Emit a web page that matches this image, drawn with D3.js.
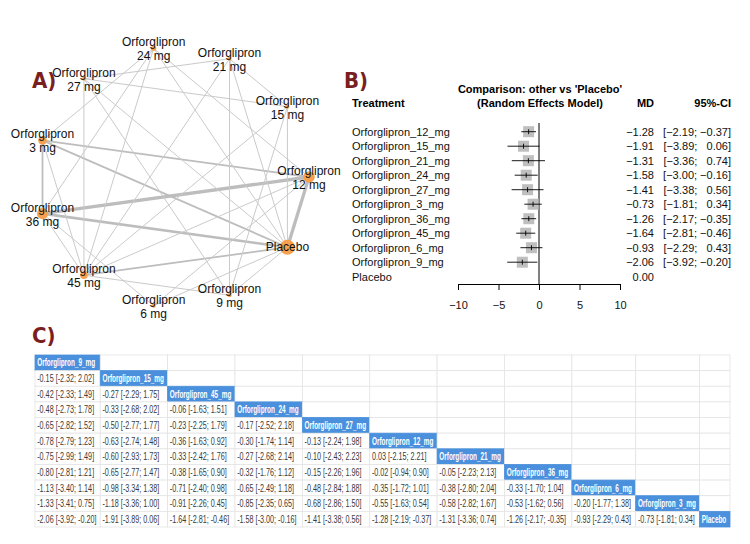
<!DOCTYPE html>
<html>
<head>
<meta charset="utf-8">
<script src="https://cdn.jsdelivr.net/npm/d3@7"></script>
<style>
  body { margin: 0; background: #fff; }
  svg { display: block; font-family: "Liberation Sans", Arial, sans-serif; }
</style>
</head>
<body>
<script>
// ---------- data ----------
// network: treatments in alphabetical order (same order as the circle layout)
const netDoses = ["12", "15", "21", "24", "27", "3", "36", "45", "6", "9", "Placebo"];
// participants per treatment (estimated from node size)
const netPatients = [420, 50, 50, 90, 50, 230, 380, 180, 50, 50, 700];
// direct comparisons: [a, b, number of studies]
const netEdges = [
  ["12", "Placebo", 4], ["12", "36", 4], ["36", "Placebo", 3],
  ["3", "12", 2], ["3", "36", 2], ["3", "Placebo", 2], ["45", "Placebo", 2],
  ["3", "24", 1], ["3", "45", 1], ["12", "24", 1], ["12", "45", 1],
  ["24", "36", 1], ["24", "45", 1], ["24", "Placebo", 1], ["36", "45", 1],
  ["6", "12", 1], ["6", "36", 1], ["6", "Placebo", 1],
  ["9", "15", 1], ["9", "21", 1], ["9", "27", 1], ["9", "45", 1], ["9", "Placebo", 1],
  ["15", "21", 1], ["15", "27", 1], ["15", "45", 1], ["15", "Placebo", 1],
  ["21", "27", 1], ["21", "45", 1], ["21", "Placebo", 1],
  ["27", "45", 1], ["27", "Placebo", 1]
];

// forest plot: other vs placebo
const forestNames = ["Orforglipron_12_mg", "Orforglipron_15_mg", "Orforglipron_21_mg",
  "Orforglipron_24_mg", "Orforglipron_27_mg", "Orforglipron_3_mg", "Orforglipron_36_mg",
  "Orforglipron_45_mg", "Orforglipron_6_mg", "Orforglipron_9_mg", "Placebo"];
const forestMD = [-1.28, -1.91, -1.31, -1.58, -1.41, -0.73, -1.26, -1.64, -0.93, -2.06, 0];
const forestLo = [-2.19, -3.89, -3.36, -3.00, -3.38, -1.81, -2.17, -2.81, -2.29, -3.92, null];
const forestHi = [-0.37, 0.06, 0.74, -0.16, 0.56, 0.34, -0.35, -0.46, 0.43, -0.20, null];
const forestTicks = [-10, -5, 0, 5, 10];

// league table (lower triangle, row vs column)
const leagueOrder = ["Orforglipron_9_mg", "Orforglipron_15_mg", "Orforglipron_45_mg",
  "Orforglipron_24_mg", "Orforglipron_27_mg", "Orforglipron_12_mg", "Orforglipron_21_mg",
  "Orforglipron_36_mg", "Orforglipron_6_mg", "Orforglipron_3_mg", "Placebo"];
const leagueMD = [
  [],
  [-0.15],
  [-0.42, -0.27],
  [-0.48, -0.33, -0.06],
  [-0.65, -0.50, -0.23, -0.17],
  [-0.78, -0.63, -0.36, -0.30, -0.13],
  [-0.75, -0.60, -0.33, -0.27, -0.10, 0.03],
  [-0.80, -0.65, -0.38, -0.32, -0.15, -0.02, -0.05],
  [-1.13, -0.98, -0.71, -0.65, -0.48, -0.35, -0.38, -0.33],
  [-1.33, -1.18, -0.91, -0.85, -0.68, -0.55, -0.58, -0.53, -0.20],
  [-2.06, -1.91, -1.64, -1.58, -1.41, -1.28, -1.31, -1.26, -0.93, -0.73]
];
const leagueLo = [
  [],
  [-2.32],
  [-2.33, -2.29],
  [-2.73, -2.68, -1.63],
  [-2.82, -2.77, -2.25, -2.52],
  [-2.79, -2.74, -1.63, -1.74, -2.24],
  [-2.99, -2.93, -2.42, -2.68, -2.43, -2.15],
  [-2.81, -2.77, -1.65, -1.76, -2.26, -0.94, -2.23],
  [-3.40, -3.34, -2.40, -2.49, -2.84, -1.72, -2.80, -1.70],
  [-3.41, -3.36, -2.26, -2.35, -2.86, -1.63, -2.82, -1.62, -1.77],
  [-3.92, -3.89, -2.81, -3.00, -3.38, -2.19, -3.36, -2.17, -2.29, -1.81]
];
const leagueHi = [
  [],
  [2.02],
  [1.49, 1.75],
  [1.78, 2.02, 1.51],
  [1.52, 1.77, 1.79, 2.18],
  [1.23, 1.48, 0.92, 1.14, 1.98],
  [1.49, 1.73, 1.76, 2.14, 2.23, 2.21],
  [1.21, 1.47, 0.90, 1.12, 1.96, 0.90, 2.13],
  [1.14, 1.38, 0.98, 1.18, 1.88, 1.01, 2.04, 1.04],
  [0.75, 1.00, 0.45, 0.65, 1.50, 0.54, 1.67, 0.56, 1.38],
  [-0.20, 0.06, -0.46, -0.16, 0.56, -0.37, 0.74, -0.35, 0.43, 0.34]
];

// ---------- svg ----------
const W = 750, H = 544;
const svg = d3.select("body").append("svg").attr("width", W).attr("height", H);
const panelColor = "#7a1f1f";
const panelFont = "'Liberation Sans Narrow', 'DejaVu Sans Condensed', sans-serif";

function panelLabel(txt, x, y) {
  svg.append("text").attr("x", x).attr("y", y)
    .style("font-family", panelFont).style("font-weight", "bold")
    .style("font-size", "22px").attr("fill", panelColor).text(txt);
}

// ****************** A) network graph ******************
const cx = 173, cy = 177, rx = 136, ry = 130;
const angle = d3.scaleLinear().domain([0, netDoses.length]).range([0, 2 * Math.PI]);
const nodes = netDoses.map((d, i) => ({
  id: d,
  x: cx + rx * Math.cos(angle(i)),
  y: cy - ry * Math.sin(angle(i)),
  n: netPatients[i]
}));
const byId = {};
nodes.forEach(d => byId[d.id] = d);

const rScale = d3.scaleSqrt().domain([0, 700]).range([0, 7.5]);
const wScale = d3.scaleLinear().domain([1, 4]).range([1, 3.3]);

const gA = svg.append("g");
gA.selectAll("line.edge").data(netEdges).enter().append("line")
  .attr("class", "edge")
  .attr("x1", d => byId[d[0]].x).attr("y1", d => byId[d[0]].y)
  .attr("x2", d => byId[d[1]].x).attr("y2", d => byId[d[1]].y)
  .attr("stroke", d => d[2] > 1 ? "#bdbdbd" : "#cacaca")
  .attr("stroke-width", d => wScale(d[2]));

gA.selectAll("circle").data(nodes).enter().append("circle")
  .attr("cx", d => d.x).attr("cy", d => d.y)
  .attr("r", d => rScale(d.n)).attr("fill", "#f7a14f");

const lab = gA.selectAll("text.nlab").data(nodes).enter().append("text")
  .attr("class", "nlab")
  .attr("text-anchor", "middle")
  .style("font-size", "12px").attr("fill", "#111");
lab.each(function(d) {
  const t = d3.select(this);
  if (d.id === "Placebo") {
    t.append("tspan").attr("x", d.x).attr("y", d.y + 4).text("Placebo");
  } else {
    t.append("tspan").attr("x", d.x).attr("y", d.y - 2).text("Orforglipron");
    t.append("tspan").attr("x", d.x).attr("y", d.y + 12).text(d.id + " mg");
  }
});

panelLabel("A)", 32, 88);

// ****************** B) forest plot ******************
panelLabel("B)", 344, 88);

const xF = d3.scaleLinear().domain([-10, 10]).range([458, 620]);
const yF = d3.scalePoint().domain(forestNames).range([131.7, 276.7]);
const gB = svg.append("g").style("font-size", "11px");
const minus = v => d3.format(".2f")(v);   // d3 uses the true minus sign

gB.append("text").attr("x", 540).attr("y", 93).attr("text-anchor", "middle")
  .style("font-weight", "bold").text("Comparison: other vs 'Placebo'");
gB.append("text").attr("x", 540).attr("y", 107).attr("text-anchor", "middle")
  .style("font-weight", "bold").text("(Random Effects Model)");
gB.append("text").attr("x", 352).attr("y", 107).style("font-weight", "bold").text("Treatment");
gB.append("text").attr("x", 654).attr("y", 107).attr("text-anchor", "end")
  .style("font-weight", "bold").text("MD");
gB.append("text").attr("x", 731).attr("y", 107).attr("text-anchor", "end")
  .style("font-weight", "bold").text("95%-CI");

// reference line at 0
gB.append("line").attr("x1", xF(0)).attr("x2", xF(0)).attr("y1", 123).attr("y2", 284)
  .attr("stroke", "#000").attr("stroke-width", 1);

const rows = forestNames.map((name, i) => ({ name, md: forestMD[i], lo: forestLo[i], hi: forestHi[i] }));

gB.selectAll("text.tname").data(rows).enter().append("text")
  .attr("class", "tname").attr("x", 352).attr("y", d => yF(d.name) + 4)
  .attr("fill", "#111").text(d => d.name);

const est = rows.filter(d => d.lo !== null);
const sq = 11;
gB.selectAll("rect.sq").data(est).enter().append("rect")
  .attr("class", "sq")
  .attr("x", d => xF(d.md) - sq / 2).attr("y", d => yF(d.name) - sq / 2)
  .attr("width", sq).attr("height", sq).attr("fill", "#bfbfbf");
gB.selectAll("line.ci").data(est).enter().append("line")
  .attr("class", "ci")
  .attr("x1", d => xF(d.lo)).attr("x2", d => xF(d.hi))
  .attr("y1", d => yF(d.name)).attr("y2", d => yF(d.name))
  .attr("stroke", "#000").attr("stroke-width", 0.9);
gB.selectAll("line.mk").data(est).enter().append("line")
  .attr("class", "mk")
  .attr("x1", d => xF(d.md)).attr("x2", d => xF(d.md))
  .attr("y1", d => yF(d.name) - 2.5).attr("y2", d => yF(d.name) + 2.5)
  .attr("stroke", "#000").attr("stroke-width", 0.9);

gB.selectAll("text.md").data(rows).enter().append("text")
  .attr("class", "md").attr("x", 654).attr("y", d => yF(d.name) + 4)
  .attr("text-anchor", "end").attr("fill", "#111").text(d => minus(d.md));
gB.selectAll("text.ci").data(est).enter().append("text")
  .attr("class", "ci").attr("x", 731).attr("y", d => yF(d.name) + 4)
  .attr("text-anchor", "end").attr("fill", "#111")
  .text(d => "[" + minus(d.lo) + "; " + (d.hi < 0 ? "" : "\u2007") + minus(d.hi) + "]");

const axF = gB.append("g").attr("transform", "translate(0,284)")
  .call(d3.axisBottom(xF).tickValues(forestTicks).tickSize(6).tickPadding(11).tickSizeOuter(0));
axF.select(".domain").attr("stroke", "#000");
axF.selectAll(".tick line").attr("stroke", "#000");
axF.selectAll("text").style("font-size", "11px").style("font-family", "'Liberation Sans', Arial, sans-serif").attr("fill", "#111");

// ****************** C) league table ******************
panelLabel("C)", 32, 343);

const gC = svg.append("g").style("font-family", "'Liberation Sans', Arial, sans-serif").style("font-size", "10.5px");
const fmt = v => v.toFixed(2);
const cellText = (i, j) => fmt(leagueMD[i][j]) + " [" + fmt(leagueLo[i][j]) + "; " + fmt(leagueHi[i][j]) + "]";

// the table uses a condensed face: squeeze text horizontally
const probe = gC.append("text");
function textW(s, bold) {
  probe.style("font-weight", bold ? "bold" : "normal").text(s);
  return probe.node().getComputedTextLength();
}
const squeezeBold = 58 / textW("Orforglipron_9_mg", true);
const squeezeReg = 57 / textW(cellText(1, 0), false);

// autofit column widths from text (like a spreadsheet)
const colW = leagueOrder.map((name, j) => {
  let w = textW(name, true) * squeezeBold;
  for (let i = j + 1; i < leagueOrder.length; i++) w = Math.max(w, textW(cellText(i, j), false) * squeezeReg);
  return w + 6;
});
probe.remove();
const colX = [];
colW.reduce((acc, w, j) => { colX[j] = acc; return acc + w; }, 0);
const colScale = d3.scaleLinear().domain([0, d3.sum(colW)]).range([35, 730]);

const yC = d3.scaleBand().domain(leagueOrder).range([355, 527]);
const rh = yC.bandwidth();

leagueOrder.forEach((rowName, i) => {
  leagueOrder.forEach((colName, j) => {
    const x0 = colScale(colX[j]), x1 = colScale(colX[j] + colW[j]);
    gC.append("rect").attr("x", x0).attr("y", yC(rowName)).attr("width", x1 - x0).attr("height", rh)
      .attr("fill", i === j ? "#4a90dc" : "#fff")
      .attr("stroke", i === j ? "#4a90dc" : "#e4e4e4").attr("stroke-width", 0.8);
  });
});
leagueOrder.forEach((rowName, i) => {
  leagueOrder.forEach((colName, j) => {
    if (j > i) return;
    const k = i === j ? squeezeBold : squeezeReg;
    const x0 = colScale(colX[j]) + 2.2, y0 = yC(rowName) + rh / 2 + 3.6;
    const t = gC.append("text").attr("transform", `translate(${x0},${y0}) scale(${k},1)`);
    if (i === j) t.attr("fill", "#fff").style("font-weight", "bold").text(rowName);
    else t.attr("fill", "#3a3a3a").text(cellText(i, j));
  });
});
</script>
</body>
</html>
